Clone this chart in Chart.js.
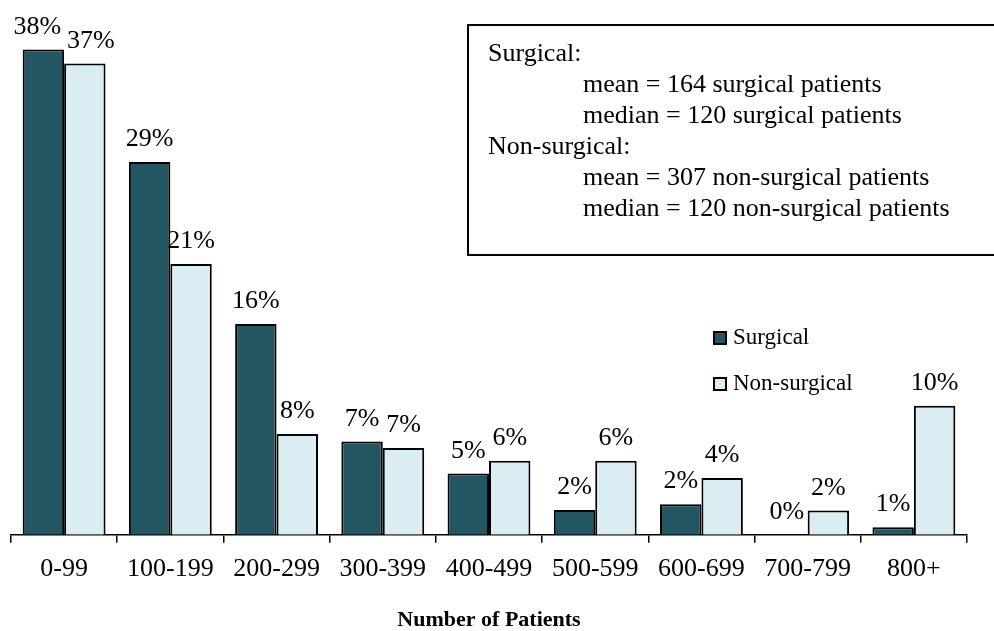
<!DOCTYPE html>
<html>
<head>
    <title>Number of Patients</title>
    <script src="https://cdn.jsdelivr.net/npm/chart.js"></script>
    <style>
        body { margin: 0; background: #fff; }
        #wrap { width: 994px; height: 631px; }
    </style>
</head>
<body>
    <div id="wrap"><canvas id="patientChart" width="994" height="631"></canvas></div>

    <script>
        const categories = ["0-99", "100-199", "200-299", "300-399", "400-499", "500-599", "600-699", "700-799", "800+"];
        const surgical = [38, 29.2, 16.5, 7.3, 4.8, 1.95, 2.4, 0, 0.6];
        const nonSurgical = [36.9, 21.2, 7.9, 6.8, 5.8, 5.8, 4.45, 1.9, 10.1];
        const surgicalLabels = ["38%", "29%", "16%", "7%", "5%", "2%", "2%", "0%", "1%"];
        const nonSurgicalLabels = ["37%", "21%", "8%", "7%", "6%", "6%", "4%", "2%", "10%"];
        const statsLines = [
            { text: "Surgical:", indent: false },
            { text: "mean = 164 surgical patients", indent: true },
            { text: "median = 120 surgical patients", indent: true },
            { text: "Non-surgical:", indent: false },
            { text: "mean = 307 non-surgical patients", indent: true },
            { text: "median = 120 non-surgical patients", indent: true }
        ];

        const serif = "'Liberation Serif', 'Times New Roman', serif";

        // percent labels over each bar, pushed apart when a pair would overlap
        const barLabels = {
            id: "barLabels",
            afterDatasetsDraw(chart) {
                const ctx = chart.ctx;
                ctx.save();
                ctx.font = "26px " + serif;
                ctx.fillStyle = "#000";
                ctx.textAlign = "center";
                ctx.textBaseline = "alphabetic";
                const m0 = chart.getDatasetMeta(0).data;
                const m1 = chart.getDatasetMeta(1).data;
                const d0 = chart.data.datasets[0].valueLabels;
                const d1 = chart.data.datasets[1].valueLabels;
                categories.forEach((c, j) => {
                    let x0 = m0[j].x, x1 = m1[j].x;
                    const y0 = m0[j].y - 16, y1 = m1[j].y - 16;
                    const w0 = ctx.measureText(d0[j]).width;
                    const w1 = ctx.measureText(d1[j]).width;
                    const overlap = (w0 / 2 + w1 / 2 + 6) - (x1 - x0);
                    if (overlap > 0 && Math.abs(y0 - y1) < 20) {
                        x0 -= overlap / 2;
                        x1 += overlap / 2;
                    }
                    ctx.fillText(d0[j], x0, y0);
                    ctx.fillText(d1[j], x1, y1);
                });
                ctx.restore();
            }
        };

        // stats box and legend
        const extras = {
            id: "extras",
            afterDraw(chart) {
                const ctx = chart.ctx;
                ctx.save();
                ctx.fillStyle = "#fff";
                ctx.fillRect(468, 25, 540, 230);
                ctx.strokeStyle = "#000";
                ctx.lineWidth = 2;
                ctx.strokeRect(468, 25, 540, 230);
                ctx.fillStyle = "#000";
                ctx.font = "26px " + serif;
                ctx.textBaseline = "middle";
                ctx.textAlign = "left";
                statsLines.forEach((line, i) => {
                    ctx.fillText(line.text, line.indent ? 583 : 488, 54 + i * 31);
                });

                ctx.font = "23px " + serif;
                chart.data.datasets.forEach((ds, i) => {
                    const y = 338 + i * 46;
                    ctx.fillStyle = ds.backgroundColor;
                    ctx.fillRect(714, y - 6, 12, 12);
                    ctx.strokeStyle = "#000";
                    ctx.lineWidth = 2;
                    ctx.strokeRect(714, y - 6, 12, 12);
                    ctx.fillStyle = "#000";
                    ctx.fillText(ds.label, 733, y);
                });
                ctx.restore();
            }
        };

        new Chart(document.getElementById("patientChart"), {
            type: "bar",
            data: {
                labels: categories,
                datasets: [{
                    label: "Surgical",
                    data: surgical,
                    valueLabels: surgicalLabels,
                    backgroundColor: "#235663",
                    borderColor: "#000",
                    borderWidth: 2,
                    borderSkipped: "bottom"
                }, {
                    label: "Non-surgical",
                    data: nonSurgical,
                    valueLabels: nonSurgicalLabels,
                    backgroundColor: "#daedf3",
                    borderColor: "#000",
                    borderWidth: 2,
                    borderSkipped: "bottom"
                }]
            },
            options: {
                responsive: false,
                animation: false,
                layout: { padding: { left: 11, right: 27, top: 24, bottom: 0 } },
                categoryPercentage: 0.78,
                barPercentage: 1.0,
                plugins: {
                    legend: { display: false },
                    tooltip: { enabled: false }
                },
                scales: {
                    y: { display: false, min: 0, max: 40 },
                    x: {
                        border: { display: true, color: "#000", width: 1.5 },
                        grid: {
                            drawOnChartArea: false,
                            drawTicks: true,
                            tickLength: 8,
                            color: "#000",
                            lineWidth: 1.5
                        },
                        ticks: {
                            color: "#000",
                            padding: 11,
                            font: { family: serif, size: 26 },
                            maxRotation: 0
                        },
                        title: {
                            display: true,
                            text: "Number of Patients",
                            color: "#000",
                            font: { family: serif, size: 22, weight: "bold", lineHeight: 1.0 },
                            padding: { top: 13, bottom: 0 }
                        }
                    }
                }
            },
            plugins: [barLabels, extras]
        });
    </script>
</body>
</html>
